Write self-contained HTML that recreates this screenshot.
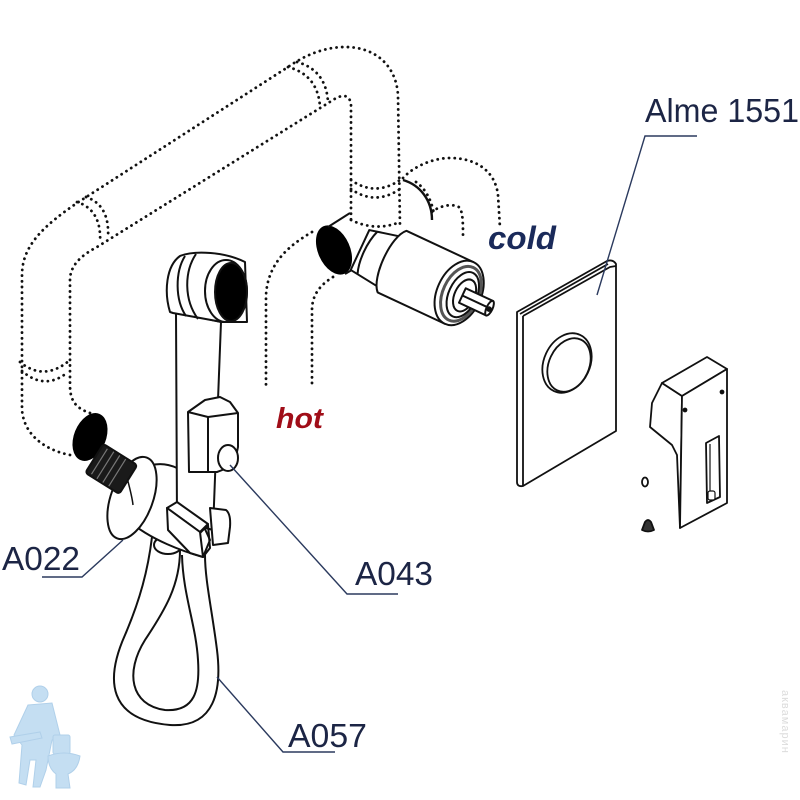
<!DOCTYPE html>
<html><head><meta charset="utf-8"><style>
html,body{margin:0;padding:0;background:#fff;}
svg{display:block;}
</style></head><body>
<svg width="800" height="800" viewBox="0 0 800 800" xmlns="http://www.w3.org/2000/svg">
<rect width="800" height="800" fill="#fff"/>

<!-- dotted pipes -->
<g fill="none" stroke="#111" stroke-width="2.8" stroke-linecap="round" stroke-dasharray="0.1 5.6">
  <path d="M70,455 C45,450 24,435 22,410 L22,275 C22,245 45,225 77,203 L288,67 C305,55 325,47 345,47 C375,47 396,65 398,95 L400,227"/>
  <path d="M90,413 C75,408 70,400 70,385 L70,280 C70,265 82,255 97,247 L333,100 C342,94 350,94 351,105 L351,222"/>
  <path d="M288,67 Q318,75 320,107"/>
  <path d="M297,62 Q326,70 328,102"/>
  <path d="M77,202 Q102,210 100,243"/>
  <path d="M86,197 Q110,205 108,238"/>
  <path d="M20,362 Q44,382 70,360"/>
  <path d="M22,371 Q45,391 68,372"/>
  <path d="M351,180 Q375,197 400,180"/>
  <path d="M351,189 Q375,206 400,189"/>
  <path d="M351,220 Q376,232 400,222"/>
  <path d="M403,178 C415,165 435,158 450,158 C475,158 495,170 498,195 L500,228"/>
  <path d="M432,212 C440,205 455,203 460,208 C463,214 463,225 463,235"/>
  <path d="M416,182 Q430,192 434,214"/>
  <path d="M312,232 C290,245 268,262 266,295 L266,388"/>
  <path d="M333,277 C320,285 312,295 312,310 L312,388"/>
</g>

<!-- black pipe openings -->
<ellipse cx="90" cy="437" rx="16" ry="25" transform="rotate(22 90 437)" fill="#000"/>
<ellipse cx="334" cy="250" rx="16" ry="26" transform="rotate(-24 334 250)" fill="#000"/>

<!-- cartridge / T body -->
<g stroke="#111" stroke-width="2" fill="#fff" stroke-linejoin="round">
  <path d="M403,180 C420,185 432,200 432,220" fill="none" stroke-width="2.4"/>
  <path d="M328,227 L350,213" fill="none"/>
  <path d="M345,274 L362,264" fill="none"/>
  <g transform="translate(360,250) rotate(25)">
    <path d="M0,-22 L34,-30 L34,26 L0,22 Z"/>
    <path d="M8,-24 C3,-10 3,10 8,23" fill="none"/>
    <path d="M34,-37 L108,-37 L108,31 L34,31 C22,20 22,-26 34,-37 Z"/>
    <ellipse cx="108" cy="-3" rx="22" ry="34"/>
    <ellipse cx="110" cy="-3" rx="18" ry="29" stroke="#555" stroke-width="3"/>
    <ellipse cx="112" cy="-3" rx="14" ry="24"/>
    <ellipse cx="114" cy="-3" rx="10" ry="17"/>
    <path d="M112,-10 L142,-10 L142,6 L112,6 Z"/>
    <path d="M112,-2 L142,-2" fill="none"/>
    <ellipse cx="142" cy="-2" rx="3" ry="8"/>
    <circle cx="142" cy="-1" r="1.8" fill="#111"/>
  </g>
</g>

<!-- wall plate -->
<g stroke="#111" stroke-width="1.8" fill="#fff" stroke-linejoin="round">
  <path d="M517,312 L607,261 Q613,259 616,264 L616,431 L523,486 Q517,487 517,482 Z"/>
  <path d="M523,316 L610,267 L616,266" fill="none"/>
  <path d="M520,314 L608,264" fill="none"/>
  <path d="M523,316 L523,486" fill="none"/>
  <ellipse cx="567" cy="363" rx="23" ry="31" transform="rotate(25 567 363)"/>
  <ellipse cx="569" cy="365" rx="20" ry="28" transform="rotate(25 569 365)"/>
</g>

<!-- lever handle -->
<g stroke="#111" stroke-width="1.8" fill="#fff" stroke-linejoin="round">
  <path d="M662,383 L682,396 L680,528 L677,455 L672,445 L650,427 L652,403 Z"/>
  <path d="M662,383 L707,357 L727,369 L682,396 Z"/>
  <path d="M682,396 L727,369 L727,503 L680,528 Z"/>
  <path d="M706,443 L719,436 L720,497 L707,503 Z"/>
  <path d="M710,444 L710,500" fill="none" stroke-width="1.2"/>
  <rect x="708" y="491" width="7" height="9" rx="2" stroke-width="1.2"/>
  <circle cx="685" cy="410" r="1.5" fill="#111"/>
  <circle cx="722" cy="392" r="1.5" fill="#111"/>
  <ellipse cx="645" cy="482" rx="3" ry="4.5"/>
  <path d="M642,530 L645,522 Q648,518 651,522 L654,530 Q648,533 642,530 Z" fill="#333"/>
</g>

<!-- hose -->
<g fill="none" stroke="#111" stroke-width="2">
  <path d="M152,537 C148,570 140,600 125,635 C105,680 108,720 170,725 C215,728 222,690 217,650 C212,610 205,580 205,555"/>
  <path d="M180,550 C180,585 165,610 145,640 C125,672 130,705 165,710 C195,712 200,690 198,660 C196,625 183,595 182,555"/>
</g>

<!-- elbow body, flange, thread -->
<g stroke="#111" stroke-width="2" fill="#fff" stroke-linejoin="round">
  <ellipse cx="168" cy="545" rx="14" ry="9"/>
  <path d="M133,478 C140,465 160,460 177,468 L210,540 L203,557 C185,552 150,540 128,520 Z"/>
  <ellipse cx="132" cy="498" rx="21" ry="43" transform="rotate(20 132 498)"/>
  <path d="M125,470 C128,482 132,495 133,505" fill="none" stroke-width="1.5"/>
  <g transform="translate(113,470) rotate(32)">
    <rect x="-22" y="-17" width="40" height="34" rx="3" fill="#1a1a1a" stroke="#111"/>
    <path d="M-16,-15 L-16,15 M-9,-16 L-9,16 M-2,-16 L-2,16 M5,-16 L5,16" stroke="#777" stroke-width="1.2" fill="none"/>
  </g>
</g>

<!-- shower handle -->
<g stroke="#111" stroke-width="2" fill="#fff" stroke-linejoin="round">
  <path d="M176,312 L221,322 L213,530 L177,520 Z"/>
  <path d="M170,312 C164,292 166,266 180,256 C195,250 225,252 245,262 L247,322 L222,322 L173,313 Z"/>
  <path d="M185,256 C175,272 175,300 186,316" fill="none"/>
  <path d="M196,254 C184,272 184,300 198,319" fill="none"/>
  <ellipse cx="226" cy="291" rx="21" ry="31"/>
  <ellipse cx="231" cy="292" rx="16" ry="29" fill="#000"/>
  <!-- holder button block -->
  <path d="M188,412 L205,400 L220,397 L230,402 L238,413 L238,447 C236,460 230,468 217,472 L189,472 Z"/>
  <path d="M188,412 L208,417 L238,413" fill="none"/>
  <path d="M208,417 L208,473" fill="none"/>
  <ellipse cx="228" cy="458" rx="10" ry="13"/>
  <!-- slider -->
  <path d="M167,508 L177,502 L208,524 L200,532 Z"/>
  <path d="M167,508 L200,532 L203,557 L190,553 L168,530 Z"/>
  <path d="M210,508 L226,510 Q231,514 230,527 L228,543 L213,545 Z"/>
  <path d="M200,533 L208,525 L210,548 L203,557" fill="none"/>
</g>

<!-- leaders -->
<g fill="none" stroke="#2b3a5e" stroke-width="1.4">
  <path d="M597,295 L645,136 L697,136"/>
  <path d="M123,540 L82,577 L42,577"/>
  <path d="M230,465 L347,594 L398,594"/>
  <path d="M217,677 L283,752 L335,752"/>
</g>

<!-- labels -->
<g font-family="'Liberation Sans', Arial, sans-serif" fill="#1c2545">
  <text x="645" y="122" font-size="33" textLength="154" lengthAdjust="spacingAndGlyphs">Alme 1551</text>
  <text x="2" y="570" font-size="33" textLength="78" lengthAdjust="spacingAndGlyphs">A022</text>
  <text x="355" y="585" font-size="33" textLength="78" lengthAdjust="spacingAndGlyphs">A043</text>
  <text x="288" y="747" font-size="33" textLength="79" lengthAdjust="spacingAndGlyphs">A057</text>
</g>
<text x="276" y="428" font-family="'Liberation Sans', Arial, sans-serif" font-size="29" font-weight="bold" font-style="italic" fill="#a00d18" textLength="47" lengthAdjust="spacingAndGlyphs">hot</text>
<text x="488" y="249" font-family="'Liberation Sans', Arial, sans-serif" font-size="32" font-weight="bold" font-style="italic" fill="#1a2a5a" textLength="68" lengthAdjust="spacingAndGlyphs">cold</text>

<!-- plumber logo -->
<g fill="#c4def2" stroke="#b0d0ea" stroke-width="1">
  <circle cx="40" cy="694" r="8"/>
  <path d="M28,705 L52,703 L60,735 L52,740 L46,770 L40,787 L33,787 L36,760 L30,760 L26,785 L19,783 L22,745 L14,735 Z"/>
  <path d="M10,737 L40,732 L42,738 L12,744 Z"/>
  <rect x="53" y="735" width="17" height="19" rx="2"/>
  <path d="M48,756 Q64,750 80,756 Q78,770 68,774 L70,788 L56,788 L56,774 Q48,768 48,756 Z"/>
</g>
<text x="0" y="0" transform="translate(782,690) rotate(90)" font-family="'Liberation Sans', 'DejaVu Sans', sans-serif" font-size="11" fill="#dcdcdc" letter-spacing="1">аквамарин</text>
</svg>
</body></html>
